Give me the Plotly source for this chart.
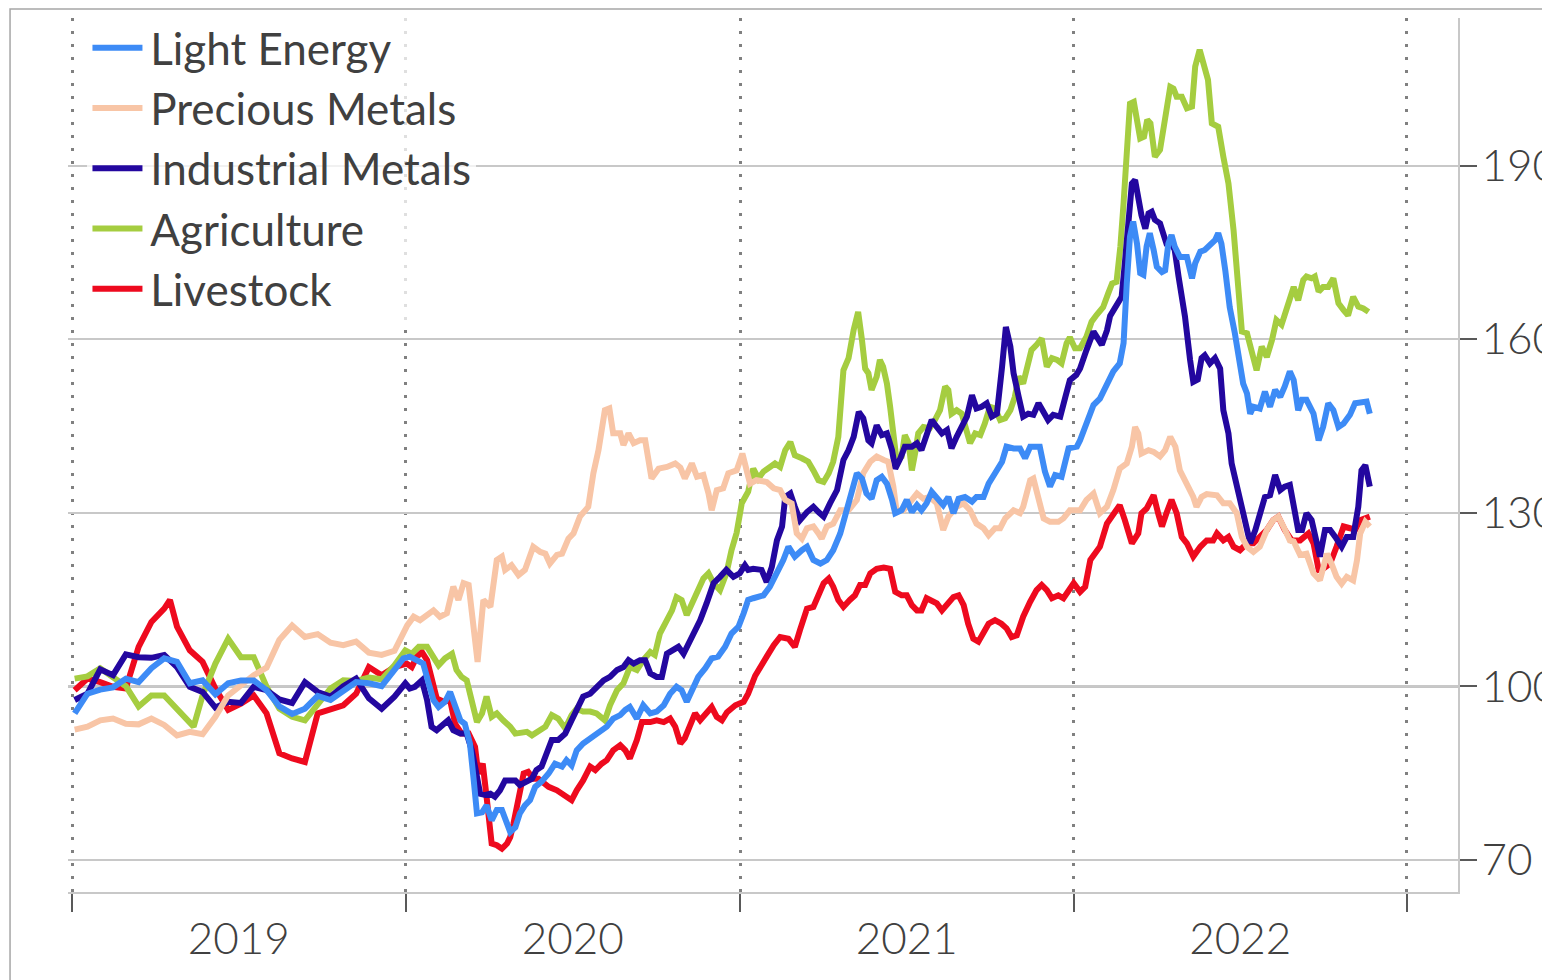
import numpy as np
import pandas as pd
import plotly.graph_objects as go

# ---------------- data (weeks since 2019-01-01, index value) ----------------
START = pd.Timestamp("2019-01-01")

light_energy = [
    (0.4, 95.3), (2.4, 98.7), (4.4, 99.4), (6.4, 99.8), (8.4, 101.3), (10.4, 100.7), (12.4, 103.1),
    (14.4, 104.8), (16.4, 104.2), (18.4, 100.5), (20.4, 101.0), (22.4, 98.6), (24.4, 100.5),
    (26.4, 101.0), (28.4, 101.0), (30.4, 99.3), (32.4, 96.5), (34.4, 95.2), (36.4, 96.1),
    (38.4, 98.3), (40.4, 97.6), (42.4, 99.3), (44.4, 100.7), (46.4, 100.5), (48.4, 100.0),
    (50.4, 102.8), (51.8, 104.8), (52.8, 105.1), (53.9, 104.5), (54.9, 103.9), (55.7, 100.7),
    (56.5, 97.6), (57.3, 96.4), (58.3, 97.3), (59.1, 99.0), (59.9, 96.4), (60.7, 94.1),
    (61.4, 93.5), (62.2, 90.1), (62.8, 83.7), (63.3, 78.0), (64.1, 78.2), (64.8, 79.4),
    (65.6, 76.8), (66.4, 78.6), (67.2, 78.6), (67.7, 76.8), (68.5, 74.8), (69.3, 75.6),
    (70.0, 78.0), (70.8, 79.4), (71.6, 80.3), (72.4, 82.6), (73.4, 83.5), (74.5, 84.9),
    (75.5, 86.6), (76.6, 86.1), (77.3, 87.2), (78.1, 86.3), (78.9, 88.9), (79.9, 90.1),
    (81.0, 91.0), (82.3, 91.8), (83.6, 93.0), (84.6, 94.4), (85.7, 95.0), (86.5, 95.9),
    (87.2, 96.4), (88.3, 94.4), (89.3, 96.7), (90.4, 95.3), (91.4, 95.6), (92.5, 96.7),
    (93.5, 98.7), (94.5, 99.9), (95.3, 99.3), (96.1, 97.3), (96.9, 99.3), (97.9, 101.6),
    (99.0, 103.1), (100.0, 104.8), (101.0, 105.1), (102.1, 106.8), (103.1, 109.1), (104.2, 110.3),
    (105.0, 112.6), (105.7, 114.9), (106.5, 115.2), (108.1, 115.7), (109.1, 117.2), (110.2, 119.5),
    (111.2, 121.8), (112.0, 124.1), (113.0, 122.4), (114.1, 123.5), (114.9, 124.1), (115.9, 121.8),
    (117.0, 121.2), (118.0, 121.8), (119.0, 123.5), (120.1, 126.4), (121.1, 130.4), (121.9, 133.3),
    (122.7, 136.8), (123.5, 135.9), (124.2, 133.3), (125.0, 132.4), (125.8, 135.6), (126.6, 136.2),
    (127.4, 135.0), (128.2, 132.2), (128.7, 129.9), (129.7, 130.4), (130.5, 132.2), (131.3, 130.1),
    (132.1, 131.3), (132.8, 130.4), (133.6, 131.6), (134.4, 133.6), (135.5, 132.2), (136.2, 131.3),
    (137.0, 132.7), (137.8, 129.9), (138.6, 132.4), (139.6, 132.7), (140.7, 131.9), (141.4, 132.7),
    (142.5, 132.7), (143.3, 135.0), (144.3, 136.8), (145.4, 138.8), (146.1, 141.4), (147.2, 141.1),
    (148.2, 141.1), (149.0, 139.4), (149.8, 141.4), (151.3, 141.4), (152.1, 137.1), (152.9, 134.5),
    (153.7, 136.5), (154.7, 136.2), (155.8, 141.1), (157.1, 141.4), (157.6, 142.5), (158.6, 145.4),
    (159.7, 148.6), (160.7, 149.7), (161.8, 152.3), (162.8, 154.4), (163.8, 155.8), (164.4, 159.3),
    (164.9, 169.6), (165.4, 177.7), (165.9, 180.3), (166.5, 176.5), (167.0, 171.4), (167.5, 171.1),
    (168.0, 176.0), (168.5, 178.3), (169.1, 175.4), (169.6, 172.5), (170.4, 171.6), (170.9, 171.9),
    (171.4, 176.5), (171.9, 178.0), (172.4, 176.0), (173.2, 174.2), (174.3, 174.2), (175.1, 170.5),
    (175.6, 173.1), (176.4, 175.1), (177.1, 175.4), (177.9, 176.3), (178.7, 177.1), (179.2, 178.3),
    (179.7, 176.5), (180.3, 171.9), (181.0, 165.5), (181.8, 161.0), (182.6, 156.4), (183.1, 152.3),
    (183.7, 150.6), (184.2, 147.1), (184.7, 148.3), (185.7, 148.0), (186.5, 150.9), (187.3, 148.3),
    (188.1, 151.2), (188.9, 150.0), (189.6, 151.8), (190.4, 154.4), (191.0, 152.9), (191.7, 147.7),
    (192.3, 149.5), (193.0, 149.5), (194.1, 147.1), (194.9, 142.5), (195.6, 144.8), (196.4, 148.9),
    (197.2, 147.7), (198.0, 144.8), (198.8, 145.4), (199.8, 146.9), (200.6, 148.9), (201.6, 149.2),
    (202.4, 149.2), (202.9, 147.1),
]

precious_metals = [
    (0.4, 92.5), (2.4, 93.0), (4.4, 94.1), (6.4, 94.4), (8.4, 93.5), (10.4, 93.4), (12.4, 94.4),
    (14.4, 93.3), (16.4, 91.5), (18.4, 92.1), (20.4, 91.7), (22.4, 94.7), (24.4, 98.4),
    (26.4, 100.3), (28.4, 101.9), (30.4, 103.2), (32.4, 108.0), (34.4, 110.5), (36.4, 108.5),
    (38.4, 109.0), (40.4, 107.5), (42.4, 107.1), (44.4, 107.7), (46.4, 105.8), (48.4, 105.4),
    (50.4, 106.1), (52.4, 110.5), (53.4, 112.0), (54.4, 111.4), (56.5, 113.1), (57.5, 112.0),
    (58.6, 112.6), (59.6, 117.2), (60.4, 114.9), (61.2, 117.8), (62.0, 117.5), (62.7, 111.4),
    (63.4, 104.2), (64.3, 114.9), (65.4, 113.7), (66.4, 121.8), (67.2, 122.4), (67.7, 120.1),
    (68.7, 120.9), (69.8, 119.2), (70.8, 120.1), (72.1, 124.1), (73.2, 123.2), (74.0, 122.9),
    (74.7, 121.2), (75.8, 122.7), (76.6, 122.9), (77.6, 125.5), (78.4, 126.4), (79.4, 129.3),
    (80.7, 131.0), (81.5, 136.8), (82.3, 140.8), (83.3, 147.7), (84.0, 148.0), (84.6, 143.7),
    (85.7, 143.7), (86.2, 141.7), (87.0, 143.7), (87.8, 142.0), (88.8, 142.5), (89.6, 142.5),
    (90.6, 135.9), (91.7, 137.6), (93.0, 137.9), (94.3, 138.5), (95.1, 137.8), (95.8, 135.9),
    (96.9, 138.5), (97.7, 136.2), (98.7, 136.5), (99.5, 133.3), (100.0, 130.4), (100.8, 133.9),
    (101.8, 134.2), (102.6, 136.8), (103.9, 137.3), (104.8, 140.2), (106.0, 135.0), (107.0, 135.6),
    (108.6, 135.3), (109.7, 134.2), (110.7, 133.9), (111.5, 132.2), (112.5, 131.6), (113.3, 126.4),
    (114.1, 125.5), (114.9, 127.3), (115.9, 127.6), (116.7, 126.4), (117.2, 125.5), (118.0, 127.6),
    (119.0, 128.1), (120.1, 130.4), (121.4, 130.4), (122.7, 132.2), (123.7, 136.8), (124.8, 138.8),
    (125.8, 139.7), (126.9, 139.1), (127.6, 138.8), (128.4, 134.5), (128.9, 130.4), (130.0, 130.4),
    (131.3, 132.2), (132.1, 133.3), (133.1, 132.4), (134.1, 132.7), (135.2, 131.6), (136.2, 127.0),
    (137.0, 129.3), (138.3, 131.0), (139.4, 131.6), (140.4, 130.4), (141.4, 128.1), (142.5, 127.3),
    (143.3, 126.1), (144.3, 127.3), (145.1, 127.3), (145.9, 129.0), (147.2, 130.4), (148.2, 129.9),
    (148.7, 131.0), (149.8, 135.6), (150.3, 135.9), (151.1, 132.2), (151.9, 129.0), (152.9, 128.4),
    (154.2, 128.4), (155.0, 129.0), (156.0, 130.4), (157.6, 130.4), (158.6, 132.2), (159.7, 133.3),
    (160.7, 129.9), (161.8, 131.0), (162.8, 133.9), (163.8, 137.6), (164.9, 138.5), (165.7, 141.4),
    (166.2, 144.8), (166.7, 143.7), (167.2, 140.2), (168.3, 140.8), (169.1, 140.5), (170.1, 139.7),
    (170.9, 140.8), (171.7, 143.1), (172.5, 141.4), (173.2, 137.3), (174.3, 135.0), (175.3, 132.7),
    (175.8, 131.0), (176.6, 132.7), (177.4, 133.2), (179.0, 133.0), (180.0, 131.6), (181.0, 131.6),
    (182.1, 129.9), (182.9, 125.8), (183.7, 124.1), (184.7, 123.2), (185.7, 124.1), (186.8, 127.0),
    (187.8, 128.7), (188.6, 129.3), (189.4, 127.6), (190.4, 125.2), (191.0, 125.0), (192.0, 122.7),
    (193.0, 122.9), (194.1, 119.5), (195.1, 118.3), (195.6, 120.6), (196.2, 122.9), (196.9, 121.2),
    (197.7, 118.9), (198.5, 117.7), (199.3, 118.9), (200.3, 118.3), (200.9, 121.8), (201.4, 126.4),
    (202.2, 128.4), (202.9, 127.6),
]

industrial_metals = [
    (0.4, 97.6), (2.4, 98.7), (4.4, 102.9), (6.4, 101.9), (8.4, 105.5), (10.4, 105.0), (12.4, 104.9),
    (14.4, 105.4), (16.4, 103.3), (18.4, 99.9), (20.4, 99.0), (22.4, 96.3), (24.4, 97.3),
    (26.4, 97.1), (28.4, 99.9), (30.4, 99.3), (32.4, 97.7), (34.4, 97.1), (36.4, 100.7),
    (38.4, 99.0), (40.4, 98.2), (42.4, 100.0), (44.4, 101.3), (46.4, 97.9), (48.4, 96.1),
    (50.4, 98.2), (52.1, 100.5), (52.8, 99.6), (53.6, 99.9), (54.7, 101.0), (55.5, 97.6),
    (56.2, 93.0), (57.0, 92.4), (58.1, 93.5), (58.8, 94.1), (59.6, 92.4), (60.7, 91.8),
    (61.7, 91.8), (62.5, 88.9), (63.0, 86.1), (63.8, 81.4), (64.6, 81.2), (65.4, 81.4),
    (66.1, 80.9), (66.9, 82.0), (67.7, 83.7), (69.3, 83.7), (70.0, 82.9), (71.1, 83.7),
    (71.9, 84.0), (72.6, 85.5), (73.4, 86.1), (74.2, 88.4), (75.0, 90.7), (76.0, 90.7),
    (77.1, 91.8), (78.1, 94.1), (79.2, 97.0), (79.9, 98.2), (81.0, 98.7), (82.0, 99.9),
    (83.1, 101.0), (84.1, 101.6), (85.2, 102.8), (86.2, 103.3), (87.0, 104.5), (87.8, 103.9),
    (88.8, 104.5), (89.6, 104.5), (90.4, 102.2), (91.4, 101.6), (92.2, 101.6), (93.0, 105.6),
    (94.0, 106.2), (94.8, 106.8), (95.6, 105.6), (96.4, 107.4), (97.1, 109.1), (98.2, 111.4),
    (99.2, 114.3), (100.3, 117.8), (101.3, 118.9), (102.3, 120.1), (103.4, 118.9), (104.4, 119.5),
    (105.2, 120.9), (105.7, 120.1), (106.5, 120.3), (107.8, 120.1), (108.6, 118.0), (109.4, 120.6),
    (110.2, 125.2), (111.0, 127.6), (111.5, 132.7), (112.3, 133.3), (113.0, 131.0), (113.8, 128.7),
    (114.9, 130.1), (115.9, 131.0), (116.7, 130.1), (117.5, 129.3), (118.5, 131.6), (119.6, 133.9),
    (120.6, 139.1), (121.4, 140.8), (122.2, 143.1), (123.0, 147.4), (123.7, 146.3), (124.5, 142.5),
    (125.0, 142.0), (125.8, 145.1), (126.6, 143.4), (127.4, 143.7), (128.2, 140.8), (128.7, 137.6),
    (129.5, 139.4), (130.2, 141.4), (131.3, 141.4), (132.1, 142.0), (132.8, 140.8), (133.6, 143.7),
    (134.4, 146.0), (135.2, 144.8), (136.0, 143.7), (136.8, 144.3), (137.5, 141.1), (138.3, 143.1),
    (139.1, 144.8), (139.9, 146.6), (140.7, 150.3), (141.4, 148.0), (142.2, 148.3), (143.0, 148.9),
    (143.8, 146.6), (144.6, 147.1), (145.4, 155.2), (146.0, 162.1), (146.7, 158.7), (147.2, 154.1),
    (148.0, 150.0), (148.7, 146.6), (149.5, 147.1), (150.3, 146.9), (151.1, 148.9), (151.9, 147.1),
    (152.6, 146.0), (153.4, 146.9), (154.5, 146.6), (155.3, 150.0), (156.0, 152.9), (157.0, 153.8),
    (157.6, 154.9), (158.6, 158.1), (159.7, 161.3), (161.0, 159.0), (161.8, 161.5), (162.3, 164.0),
    (163.3, 165.6), (164.1, 167.3), (164.6, 173.1), (165.2, 181.2), (165.7, 186.9), (166.2, 187.5),
    (166.7, 183.5), (167.2, 181.4), (167.8, 179.1), (168.3, 181.7), (168.8, 182.0), (169.3, 180.6),
    (170.1, 180.0), (170.6, 178.3), (171.1, 176.5), (171.9, 176.5), (172.4, 175.4), (173.0, 170.8),
    (173.5, 167.9), (174.0, 163.9), (174.8, 156.4), (175.3, 152.6), (176.0, 153.0), (176.6, 156.7),
    (177.1, 157.2), (177.9, 155.8), (178.7, 156.7), (179.5, 154.9), (180.0, 147.7), (180.8, 143.7),
    (181.3, 138.5), (182.1, 134.5), (182.9, 130.4), (183.7, 127.0), (184.2, 124.7), (185.0, 127.0),
    (185.7, 129.3), (186.5, 132.7), (187.3, 133.0), (188.1, 136.5), (188.9, 133.9), (189.6, 134.5),
    (190.4, 134.8), (191.0, 130.4), (191.7, 127.0), (192.3, 127.0), (193.0, 129.9), (193.8, 128.7),
    (194.3, 126.4), (195.1, 122.4), (195.9, 127.0), (196.7, 127.0), (197.5, 125.8), (198.5, 124.1),
    (199.3, 125.8), (200.3, 125.8), (201.1, 131.0), (201.6, 137.3), (202.2, 138.2), (202.9, 134.5),
]

agriculture = [
    (0.4, 101.3), (2.4, 101.7), (4.4, 103.1), (6.4, 101.6), (8.4, 100.0), (10.4, 96.5), (12.4, 98.4),
    (14.4, 98.4), (16.4, 96.1), (18.4, 93.8), (19.0, 93.0), (20.4, 98.4), (22.4, 103.9),
    (24.4, 108.2), (26.4, 105.0), (28.4, 105.0), (30.4, 99.9), (32.4, 96.1), (34.4, 94.7),
    (36.4, 94.1), (38.4, 97.0), (40.4, 99.6), (42.4, 101.0), (44.4, 100.9), (46.4, 101.5),
    (48.4, 101.2), (50.4, 103.6), (52.1, 106.2), (53.1, 105.6), (54.2, 106.8), (55.5, 106.8),
    (56.2, 105.6), (57.3, 103.6), (58.3, 104.8), (59.4, 105.6), (60.1, 102.8), (60.9, 101.6),
    (61.7, 101.0), (62.5, 97.6), (63.3, 93.8), (64.1, 95.3), (64.8, 98.2), (65.6, 94.7),
    (66.4, 95.3), (67.4, 94.1), (68.5, 93.0), (69.3, 91.8), (70.3, 92.1), (71.1, 92.1),
    (71.9, 91.5), (72.9, 92.1), (74.0, 93.0), (75.0, 95.0), (76.0, 94.4), (77.1, 92.7),
    (78.1, 95.0), (78.9, 96.1), (79.9, 95.6), (81.0, 95.6), (82.0, 95.3), (83.3, 94.1),
    (84.1, 96.7), (85.2, 99.3), (86.2, 100.5), (87.2, 103.3), (88.3, 102.8), (89.3, 104.5),
    (90.4, 105.9), (91.1, 105.4), (91.9, 109.1), (93.0, 111.4), (93.8, 113.1), (94.5, 115.4),
    (95.3, 114.9), (96.1, 112.3), (96.9, 114.3), (97.7, 116.0), (98.7, 118.6), (99.5, 119.5),
    (100.3, 117.8), (101.3, 116.6), (102.3, 119.5), (103.1, 123.5), (103.9, 126.5), (104.7, 131.6),
    (105.7, 133.6), (106.5, 137.6), (107.3, 135.9), (108.1, 137.1), (109.1, 137.9), (109.9, 138.5),
    (110.7, 137.9), (111.5, 140.8), (112.3, 142.2), (113.0, 139.9), (114.1, 139.4), (115.1, 138.8),
    (115.9, 137.3), (116.7, 135.6), (117.5, 135.3), (118.3, 136.8), (119.0, 138.8), (119.8, 143.1),
    (120.6, 154.6), (121.4, 156.7), (122.2, 161.6), (122.9, 164.7), (123.5, 159.8), (124.0, 154.9),
    (124.5, 154.1), (125.0, 151.2), (125.8, 153.5), (126.3, 156.4), (126.8, 155.2), (127.4, 152.3),
    (127.9, 148.3), (128.4, 142.5), (128.9, 139.1), (129.7, 139.7), (130.2, 143.4), (130.8, 142.0),
    (131.3, 137.3), (131.8, 140.2), (132.3, 143.7), (133.1, 144.8), (134.1, 144.6), (134.9, 146.0),
    (135.7, 147.7), (136.5, 151.8), (137.0, 151.2), (137.5, 147.1), (138.3, 147.7), (139.1, 147.1),
    (139.6, 145.4), (140.4, 142.0), (141.2, 143.7), (142.0, 143.4), (142.7, 145.4), (143.5, 148.3),
    (144.3, 148.0), (145.1, 146.0), (145.9, 146.3), (146.7, 147.7), (147.4, 150.0), (148.0, 153.5),
    (148.7, 152.3), (149.5, 155.8), (150.0, 158.1), (150.8, 159.0), (151.6, 160.1), (152.4, 155.2),
    (153.2, 156.7), (154.0, 156.4), (154.7, 155.8), (155.5, 159.3), (156.0, 160.3), (156.8, 158.4),
    (157.6, 158.4), (158.6, 160.4), (159.4, 163.0), (160.2, 164.2), (161.2, 165.5), (162.0, 167.9),
    (162.6, 169.6), (163.3, 169.9), (163.9, 176.0), (164.4, 183.5), (164.9, 191.5), (165.4, 200.7),
    (166.0, 201.0), (166.6, 197.3), (167.0, 194.7), (167.6, 195.0), (168.1, 197.9), (168.6, 197.3),
    (169.3, 191.5), (170.1, 192.7), (170.9, 197.9), (171.7, 203.6), (172.2, 203.3), (172.7, 201.9),
    (173.5, 201.9), (174.3, 199.9), (175.1, 200.2), (175.6, 207.1), (176.3, 210.0), (176.9, 207.1),
    (177.6, 204.8), (178.2, 197.3), (179.2, 196.7), (180.0, 191.5), (180.8, 186.9), (181.6, 178.8),
    (182.1, 171.9), (182.6, 164.5), (182.9, 161.3), (183.7, 161.0), (184.4, 157.5), (185.2, 154.6),
    (186.0, 158.7), (186.8, 156.9), (187.6, 159.8), (188.3, 163.3), (189.1, 162.5), (189.9, 165.5),
    (190.6, 167.8), (191.0, 169.0), (191.7, 166.7), (192.5, 170.2), (193.0, 170.8), (193.8, 170.5),
    (194.3, 170.8), (194.9, 168.2), (195.6, 169.0), (196.4, 169.0), (197.2, 170.5), (198.0, 166.2),
    (198.8, 165.0), (199.5, 164.1), (200.3, 167.3), (201.1, 165.6), (201.9, 165.3), (202.7, 164.7),
]

livestock = [
    (0.4, 99.3), (2.4, 101.3), (4.4, 100.7), (6.4, 99.9), (8.4, 99.6), (10.4, 106.8), (12.4, 111.1),
    (14.4, 113.4), (15.3, 114.9), (16.4, 110.3), (18.4, 106.2), (20.4, 104.2), (22.4, 99.6),
    (24.4, 95.9), (26.4, 97.0), (28.4, 98.4), (30.4, 95.3), (32.4, 88.4), (34.4, 87.5),
    (36.4, 86.9), (38.4, 95.3), (40.4, 96.1), (42.4, 96.7), (44.4, 98.7), (46.4, 103.3),
    (48.4, 101.9), (50.4, 103.3), (52.3, 103.9), (53.1, 103.3), (53.9, 105.1), (54.7, 105.9),
    (55.5, 104.5), (56.2, 101.0), (57.0, 97.9), (58.1, 97.3), (59.1, 97.6), (59.9, 93.5),
    (60.9, 91.8), (62.0, 91.8), (63.0, 89.5), (63.5, 84.9), (64.2, 86.6), (64.8, 80.9),
    (65.6, 72.8), (66.4, 72.5), (67.2, 71.9), (68.0, 72.8), (68.5, 73.9), (69.0, 76.2),
    (69.8, 80.3), (70.6, 84.9), (71.3, 85.2), (72.1, 84.0), (72.9, 84.0), (73.7, 83.2),
    (74.5, 82.6), (75.8, 82.0), (76.8, 81.2), (78.1, 80.3), (78.9, 82.0), (79.9, 83.7),
    (81.0, 86.1), (81.8, 85.5), (82.8, 86.6), (83.6, 87.2), (84.6, 88.9), (85.7, 89.8),
    (86.5, 88.9), (87.2, 87.5), (88.3, 90.7), (89.1, 93.8), (90.4, 93.8), (91.4, 94.1),
    (92.5, 93.8), (93.5, 94.4), (94.3, 93.0), (95.1, 90.1), (95.8, 91.0), (96.6, 93.0),
    (97.4, 95.3), (98.2, 94.1), (99.0, 95.3), (100.0, 96.4), (100.8, 94.7), (101.6, 94.1),
    (102.4, 95.5), (103.7, 96.7), (105.0, 97.3), (105.7, 98.7), (106.8, 101.8), (108.1, 104.5),
    (108.6, 105.1), (109.7, 107.1), (110.7, 108.5), (112.0, 108.2), (113.0, 106.8), (113.8, 109.7),
    (114.9, 113.4), (115.9, 113.7), (116.7, 116.0), (117.5, 117.8), (118.3, 118.6), (119.0, 117.2),
    (119.8, 114.9), (120.6, 113.7), (121.6, 114.9), (122.4, 115.7), (123.2, 117.5), (124.0, 117.5),
    (124.8, 119.5), (125.8, 120.3), (126.9, 120.5), (127.9, 120.3), (128.7, 116.3), (129.7, 115.7),
    (130.5, 115.7), (131.3, 114.0), (132.1, 113.1), (132.8, 113.1), (133.6, 115.2), (134.4, 114.6),
    (135.2, 114.3), (136.0, 113.1), (136.8, 114.3), (137.8, 115.4), (138.6, 115.7), (139.4, 114.0),
    (140.1, 110.8), (140.9, 108.2), (141.7, 107.7), (142.5, 109.1), (143.3, 110.8), (144.3, 111.4),
    (145.3, 110.8), (146.1, 110.0), (146.9, 108.5), (147.7, 108.8), (148.7, 112.0), (149.8, 114.6),
    (150.8, 116.6), (151.6, 117.5), (152.4, 116.6), (153.2, 115.2), (154.2, 115.7), (155.0, 115.2),
    (155.8, 116.6), (156.6, 117.8), (157.6, 116.3), (158.4, 117.2), (159.2, 121.8), (159.9, 122.9),
    (160.7, 124.1), (161.8, 128.1), (162.8, 129.9), (163.8, 131.3), (164.6, 128.7), (165.7, 124.7),
    (166.7, 126.4), (167.2, 129.9), (168.0, 130.7), (169.1, 133.0), (169.8, 129.9), (170.4, 127.6),
    (171.1, 129.9), (171.9, 132.2), (172.7, 129.9), (173.5, 125.8), (174.3, 124.7), (175.3, 122.4),
    (176.4, 124.1), (177.4, 125.2), (178.4, 125.2), (179.0, 126.4), (180.0, 125.2), (180.8, 125.8),
    (181.6, 124.1), (182.6, 123.5), (183.7, 124.7), (184.7, 124.7), (185.7, 125.8), (186.8, 127.0),
    (187.8, 128.7), (188.6, 129.3), (189.6, 127.0), (190.7, 125.2), (192.0, 125.2), (193.3, 126.4),
    (194.1, 124.7), (194.9, 120.1), (195.6, 120.3), (196.7, 121.2), (197.7, 124.1), (198.8, 127.6),
    (199.8, 127.3), (200.6, 127.0), (201.4, 128.7), (202.2, 129.0), (202.9, 129.3),
]

series_names = ["Light Energy", "Precious Metals", "Industrial Metals", "Agriculture", "Livestock"]
series_data = [light_energy, precious_metals, industrial_metals, agriculture, livestock]
series_colors = ["#3D8BF6", "#F8C5A6", "#23079F", "#A5CD40", "#EE0A1E"]

y_ticks = [70, 100, 130, 160, 190]

# ---------------- figure ----------------
FONT = "Lato"
TEXT = "#404040"


def to_dates(weeks):
    return START + pd.to_timedelta(np.array(weeks) * 7.0, unit="D")


fig = go.Figure()
# draw back-to-front so Light Energy ends up on top
for rank in reversed(range(len(series_names))):
    pts = series_data[rank]
    w = [p[0] for p in pts]
    v = [p[1] for p in pts]
    fig.add_trace(go.Scatter(
        x=to_dates(w), y=v, mode="lines", name="\u200a" + series_names[rank],
        line=dict(color=series_colors[rank], width=6),
        legendrank=rank + 1,
    ))

# outer chart frame (cut off at right / bottom like the original)
fig.add_shape(type="rect", xref="paper", yref="paper",
              x0=-0.0417, x1=1.1, y0=-0.15, y1=1.0103,
              line=dict(color="#A6A6A6", width=1.5), layer="below")
# emphasised 100 line
fig.add_shape(type="line", xref="paper", yref="y", x0=0, x1=1, y0=100, y1=100,
              line=dict(color="#8C8C8C", width=2.5), layer="below")

fig.update_layout(
    width=1542, height=980,
    margin=dict(l=68, r=84, t=18, b=88, autoexpand=False),
    paper_bgcolor="white", plot_bgcolor="white",
    font=dict(family=FONT, color=TEXT, size=44, weight=300),
    showlegend=True,
    legend=dict(
        x=0.014, y=1.006, xanchor="left", yanchor="top",
        bgcolor="rgba(255,255,255,0.75)",
        font=dict(family=FONT, size=44, color=TEXT, weight=400),
        itemwidth=50,
    ),
    xaxis=dict(
        type="date", automargin=False,
        range=["2018-12-27 12:00", "2023-02-25 20:00"],
        tick0="2019-01-01", dtick="M12", tickformat="%Y", ticklabelmode="period",
        ticks="outside", ticklen=18, tickwidth=2, tickcolor="#595959",
        ticklabelstandoff=-11,
        showgrid=True, gridcolor="#808080", gridwidth=2.5, griddash="3px,10px",
        showline=True, linecolor="#C8C8C8", linewidth=1.5,
        tickfont=dict(family=FONT, size=44, color=TEXT, weight=300),
        zeroline=False,
    ),
    yaxis=dict(
        side="right", automargin=False, range=[64.42, 215.5],
        tickvals=y_ticks, ticktext=[str(t) for t in y_ticks],
        ticks="outside", ticklen=17, tickwidth=1.5, tickcolor="#595959",
        ticklabelstandoff=-4,
        showgrid=True, gridcolor="#C8C8C8", gridwidth=1.5,
        showline=True, linecolor="#C8C8C8", linewidth=1.5,
        tickfont=dict(family=FONT, size=44, color=TEXT, weight=300),
        zeroline=False,
    ),
)

fig.write_html("out.html", config={"displayModeBar": False},
               post_script="document.body.style.margin='0';")
